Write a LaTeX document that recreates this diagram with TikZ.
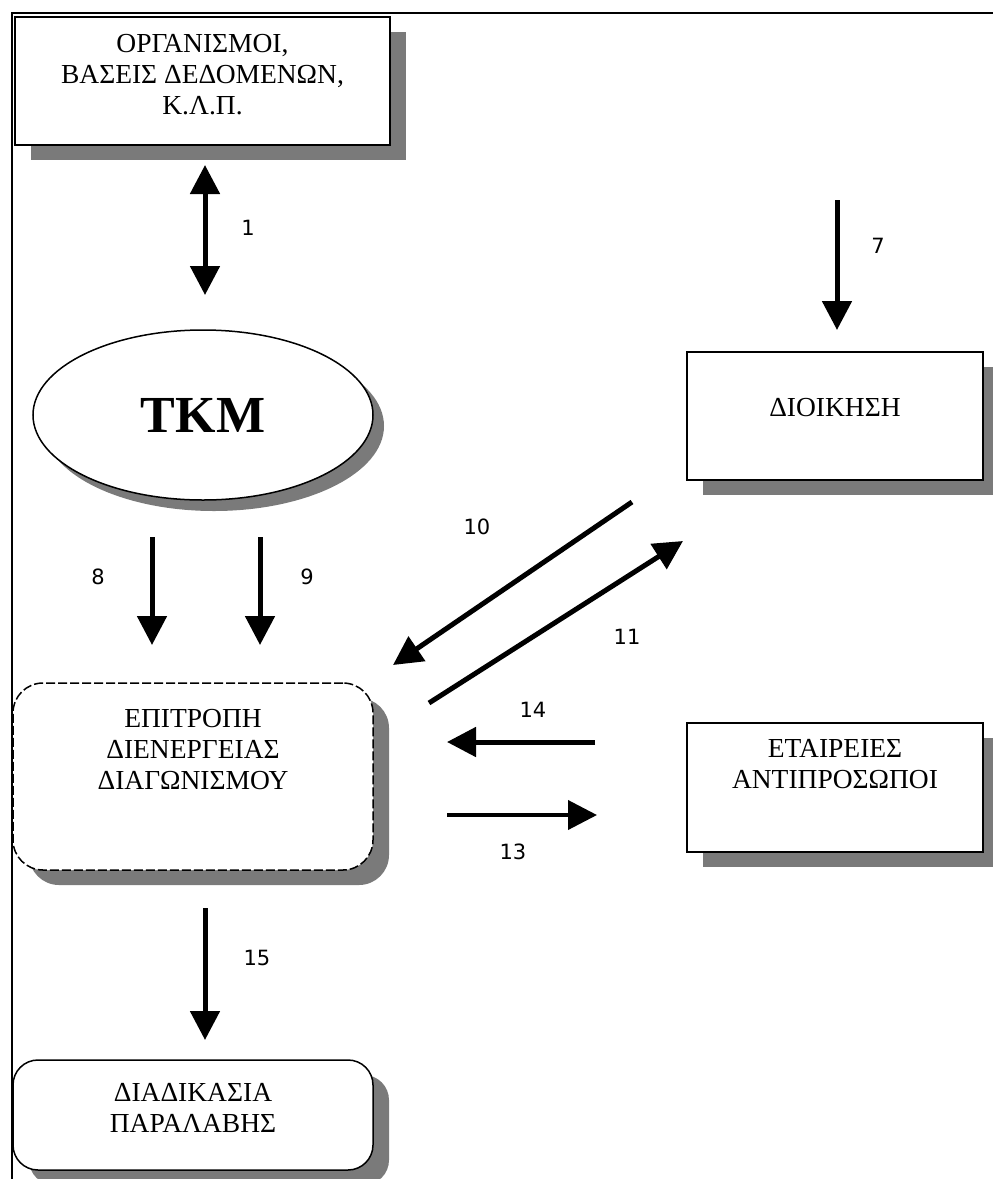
\documentclass[tikz,border=0pt]{standalone}
\usepackage{fontspec}
\setmainfont{Liberation Serif}
\newfontfamily\numfont{DejaVu Sans}
\usetikzlibrary{shapes.geometric,arrows.meta,calc}
\definecolor{shadowgray}{HTML}{7A7A7A}
\begin{document}
\begin{tikzpicture}[x=1pt,y=-1pt,
  boxshadow/.style={preaction={fill=shadowgray, draw=none, transform canvas={xshift=16pt, yshift=-15pt}}},
  box/.style={draw=black, line width=1.5pt, fill=white, inner sep=0pt, boxshadow},
  lab/.style={align=center, font=\fontsize{27.5}{31}\selectfont},
  arr/.style={line width=5pt, -{Triangle[length=29pt,width=29pt]}},
  darr/.style={line width=5pt, {Triangle[length=29pt,width=29pt]}-{Triangle[length=29pt,width=29pt]}},
  num/.style={font=\numfont\fontsize{21}{24}\selectfont}]
\fill[white] (0,0) rectangle (993,1179);
\useasboundingbox (0,0) rectangle (993,1179);
% frame
\coordinate (fTL) at (12,13);
\coordinate (fTR) at (993,13);
\coordinate (fBL) at (12,1179);
\draw[line width=2pt] (fTR) -- (fTL) -- (fBL);
% nodes
\node[box, minimum width=375, minimum height=128,
      label={[lab, yshift=6pt]center:{ΟΡΓΑΝΙΣΜΟΙ,\\ΒΑΣΕΙΣ ΔΕΔΟΜΕΝΩΝ,\\Κ.Λ.Π.}}]
      (org) at (202.5,81) {};
\node[ellipse, draw=black, line width=1.5pt, fill=white, minimum width=340, minimum height=170,
      preaction={fill=shadowgray, draw=none, transform canvas={xshift=11pt, yshift=-11pt}},
      font=\bfseries\fontsize{52}{60}\selectfont]
      (tkm) at (203,415) {ΤΚΜ};
\node[box, rounded corners=30pt, dash pattern=on 9pt off 3pt, minimum width=360, minimum height=187,
      label={[lab, yshift=27pt]center:{ΕΠΙΤΡΟΠΗ\\ΔΙΕΝΕΡΓΕΙΑΣ\\ΔΙΑΓΩΝΙΣΜΟΥ}}]
      (epi) at (193,776.5) {};
\node[box, rounded corners=25pt, minimum width=360, minimum height=110,
      label={[lab, yshift=7pt]center:{ΔΙΑΔΙΚΑΣΙΑ\\ΠΑΡΑΛΑΒΗΣ}}]
      (diad) at (193,1115) {};
\node[box, minimum width=296, minimum height=128,
      label={[lab, yshift=8pt]center:{ΔΙΟΙΚΗΣΗ}}]
      (dioik) at (835,416) {};
\node[box, minimum width=296, minimum height=129,
      label={[lab, yshift=23pt]center:{ΕΤΑΙΡΕΙΕΣ\\ΑΝΤΙΠΡΟΣΩΠΟΙ}}]
      (etair) at (835,787.5) {};
% arrow end points
\coordinate (a1s) at (205,165);  \coordinate (a1e) at (205,295);
\coordinate (a7s) at (837,200);  \coordinate (a7e) at (837,330);
\coordinate (a8s) at (152,537);  \coordinate (a8e) at (152,645);
\coordinate (a9s) at (260,537);  \coordinate (a9e) at (260,645);
\coordinate (a10s) at (632,502); \coordinate (a10e) at (393,665);
\coordinate (a11s) at (429,703); \coordinate (a11e) at (683,541);
\coordinate (a14s) at (595,742); \coordinate (a14e) at (447,742);
\coordinate (a13s) at (447,815); \coordinate (a13e) at (597,815);
\coordinate (a15s) at (205,908); \coordinate (a15e) at (205,1040);
% arrows
\draw[darr] (a1s) -- (a1e);
\draw[arr] (a7s) -- (a7e);
\draw[arr] (a8s) -- (a8e);
\draw[arr] (a9s) -- (a9e);
\draw[arr] (a10s) -- (a10e);
\draw[arr] (a11s) -- (a11e);
\draw[arr] (a14s) -- (a14e);
\draw[arr, line width=4pt] (a13s) -- (a13e);
\draw[arr] (a15s) -- (a15e);
% labels
\node[num] (n1) at (248,228) {1};
\node[num] (n7) at (878,246) {7};
\node[num] (n8) at (98,577) {8};
\node[num] (n9) at (307,577) {9};
\node[num] (n10) at (477,527) {10};
\node[num] (n11) at (627,637) {11};
\node[num] (n14) at (533,710) {14};
\node[num] (n13) at (513,852) {13};
\node[num] (n15) at (257,958) {15};
\end{tikzpicture}
\end{document}
